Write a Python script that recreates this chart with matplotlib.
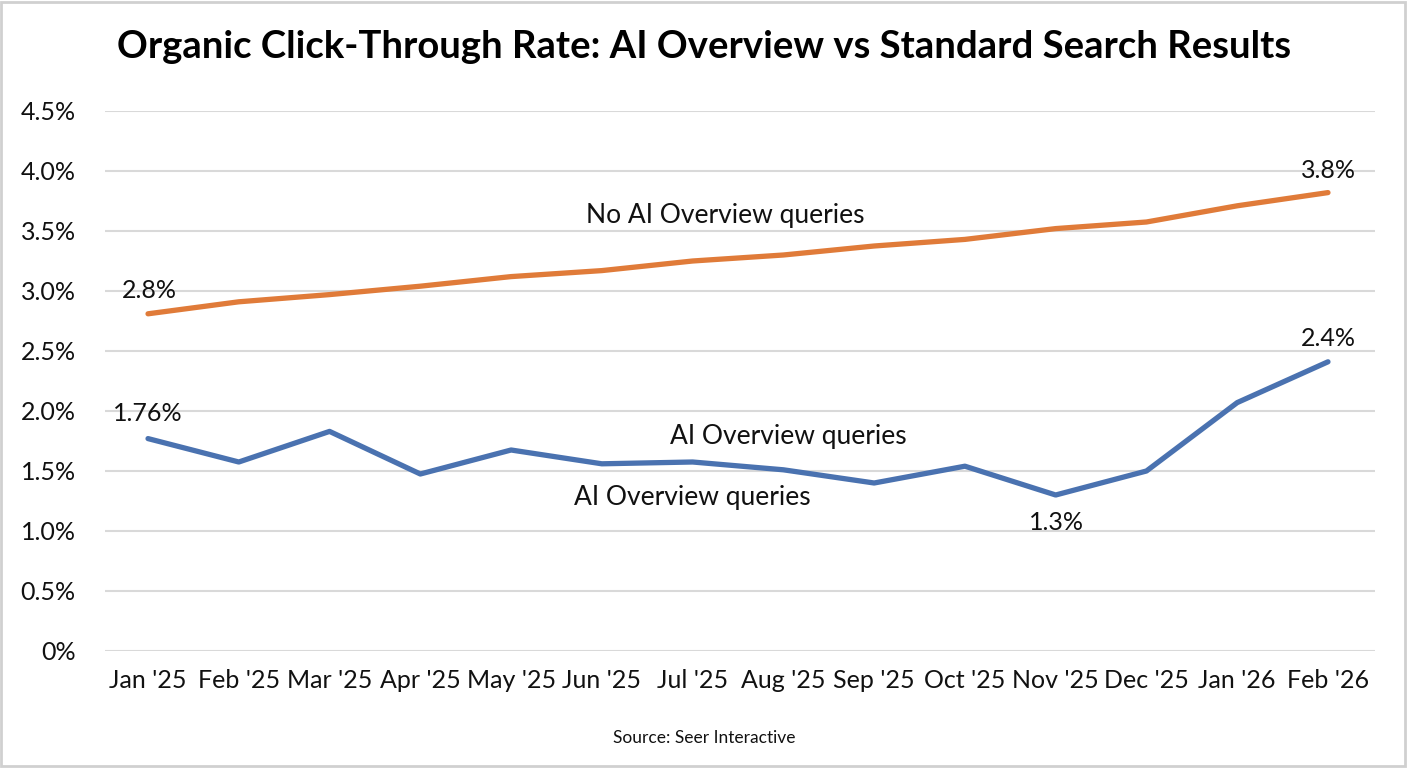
import matplotlib.pyplot as plt
from matplotlib.patches import Rectangle
from matplotlib.ticker import FuncFormatter

plt.rcParams['font.family'] = ['Lato', 'DejaVu Sans']

months = ["Jan '25", "Feb '25", "Mar '25", "Apr '25", "May '25", "Jun '25", "Jul '25",
          "Aug '25", "Sep '25", "Oct '25", "Nov '25", "Dec '25", "Jan '26", "Feb '26"]
no_aio_ctr = [2.81, 2.91, 2.97, 3.04, 3.12, 3.17, 3.25, 3.30, 3.375, 3.43, 3.52, 3.575, 3.71, 3.82]
aio_ctr = [1.77, 1.575, 1.83, 1.475, 1.675, 1.56, 1.575, 1.51, 1.40, 1.54, 1.30, 1.50, 2.07, 2.41]
yticks = [0, 0.5, 1.0, 1.5, 2.0, 2.5, 3.0, 3.5, 4.0, 4.5]

orange = '#E07B39'
blue = '#4A72B0'

fig = plt.figure(figsize=(14.08, 7.68), dpi=100)
ax = fig.add_axes([105 / 1408, 1 - 651 / 768, 1270 / 1408, 540 / 768])

x = list(range(len(months)))
ax.plot(x, no_aio_ctr, color=orange, lw=3.8, solid_capstyle='round', zorder=3)
ax.plot(x, aio_ctr, color=blue, lw=3.8, solid_capstyle='round', zorder=3)

ax.set_ylim(0, 4.5)
ax.set_xlim(-0.474, 13.518)
ax.set_yticks(yticks)
ax.yaxis.set_major_formatter(FuncFormatter(lambda v, p: '0%' if v == 0 else f'{v:.1f}%'))
ax.set_xticks(x)
ax.set_xticklabels(months)
ax.tick_params(axis='both', length=0, labelsize=18, colors='#111111')
ax.tick_params(axis='y', pad=21)
ax.tick_params(axis='x', pad=13)
ax.grid(axis='y', color='#d9d9d9', lw=1.5)
ax.set_axisbelow(True)
for s in ax.spines.values():
    s.set_visible(False)

# value labels
lab = dict(fontsize=18, color='#111111', ha='center', va='center')
ax.text(0.02, 3.0, f'{no_aio_ctr[0]:.1f}%', **lab)
ax.text(0, 1.98, '1.76%', **lab)
ax.text(13, 4.0, f'{no_aio_ctr[-1]:.1f}%', **lab)
ax.text(13, 2.6, f'{aio_ctr[-1]:.1f}%', **lab)
ax.text(10.01, 1.07, f'{aio_ctr[10]:.1f}%', **lab)

# series labels
ser = dict(fontsize=19, color='#111111', ha='center', va='center')
ax.text(6.36, 3.63, 'No AI Overview queries', **ser)
ax.text(7.05, 1.79, 'AI Overview queries', **ser)
ax.text(6.0, 1.275, 'AI Overview queries', **ser)

fig.text(704 / 1408, 1 - 47 / 768, 'Organic Click-Through Rate: AI Overview vs Standard Search Results',
         fontsize=27.5, fontweight='bold', ha='center', va='center', color='#000000')
fig.text(704 / 1408, 1 - 738 / 768, 'Source: Seer Interactive', fontsize=12.5,
         ha='center', va='center', color='#111111')

fig.patches.append(Rectangle((0.001, 0.002), 0.997, 0.996, transform=fig.transFigure,
                             fill=False, edgecolor='#d0d0d0', lw=2))

fig.savefig('out.png', dpi=100)
